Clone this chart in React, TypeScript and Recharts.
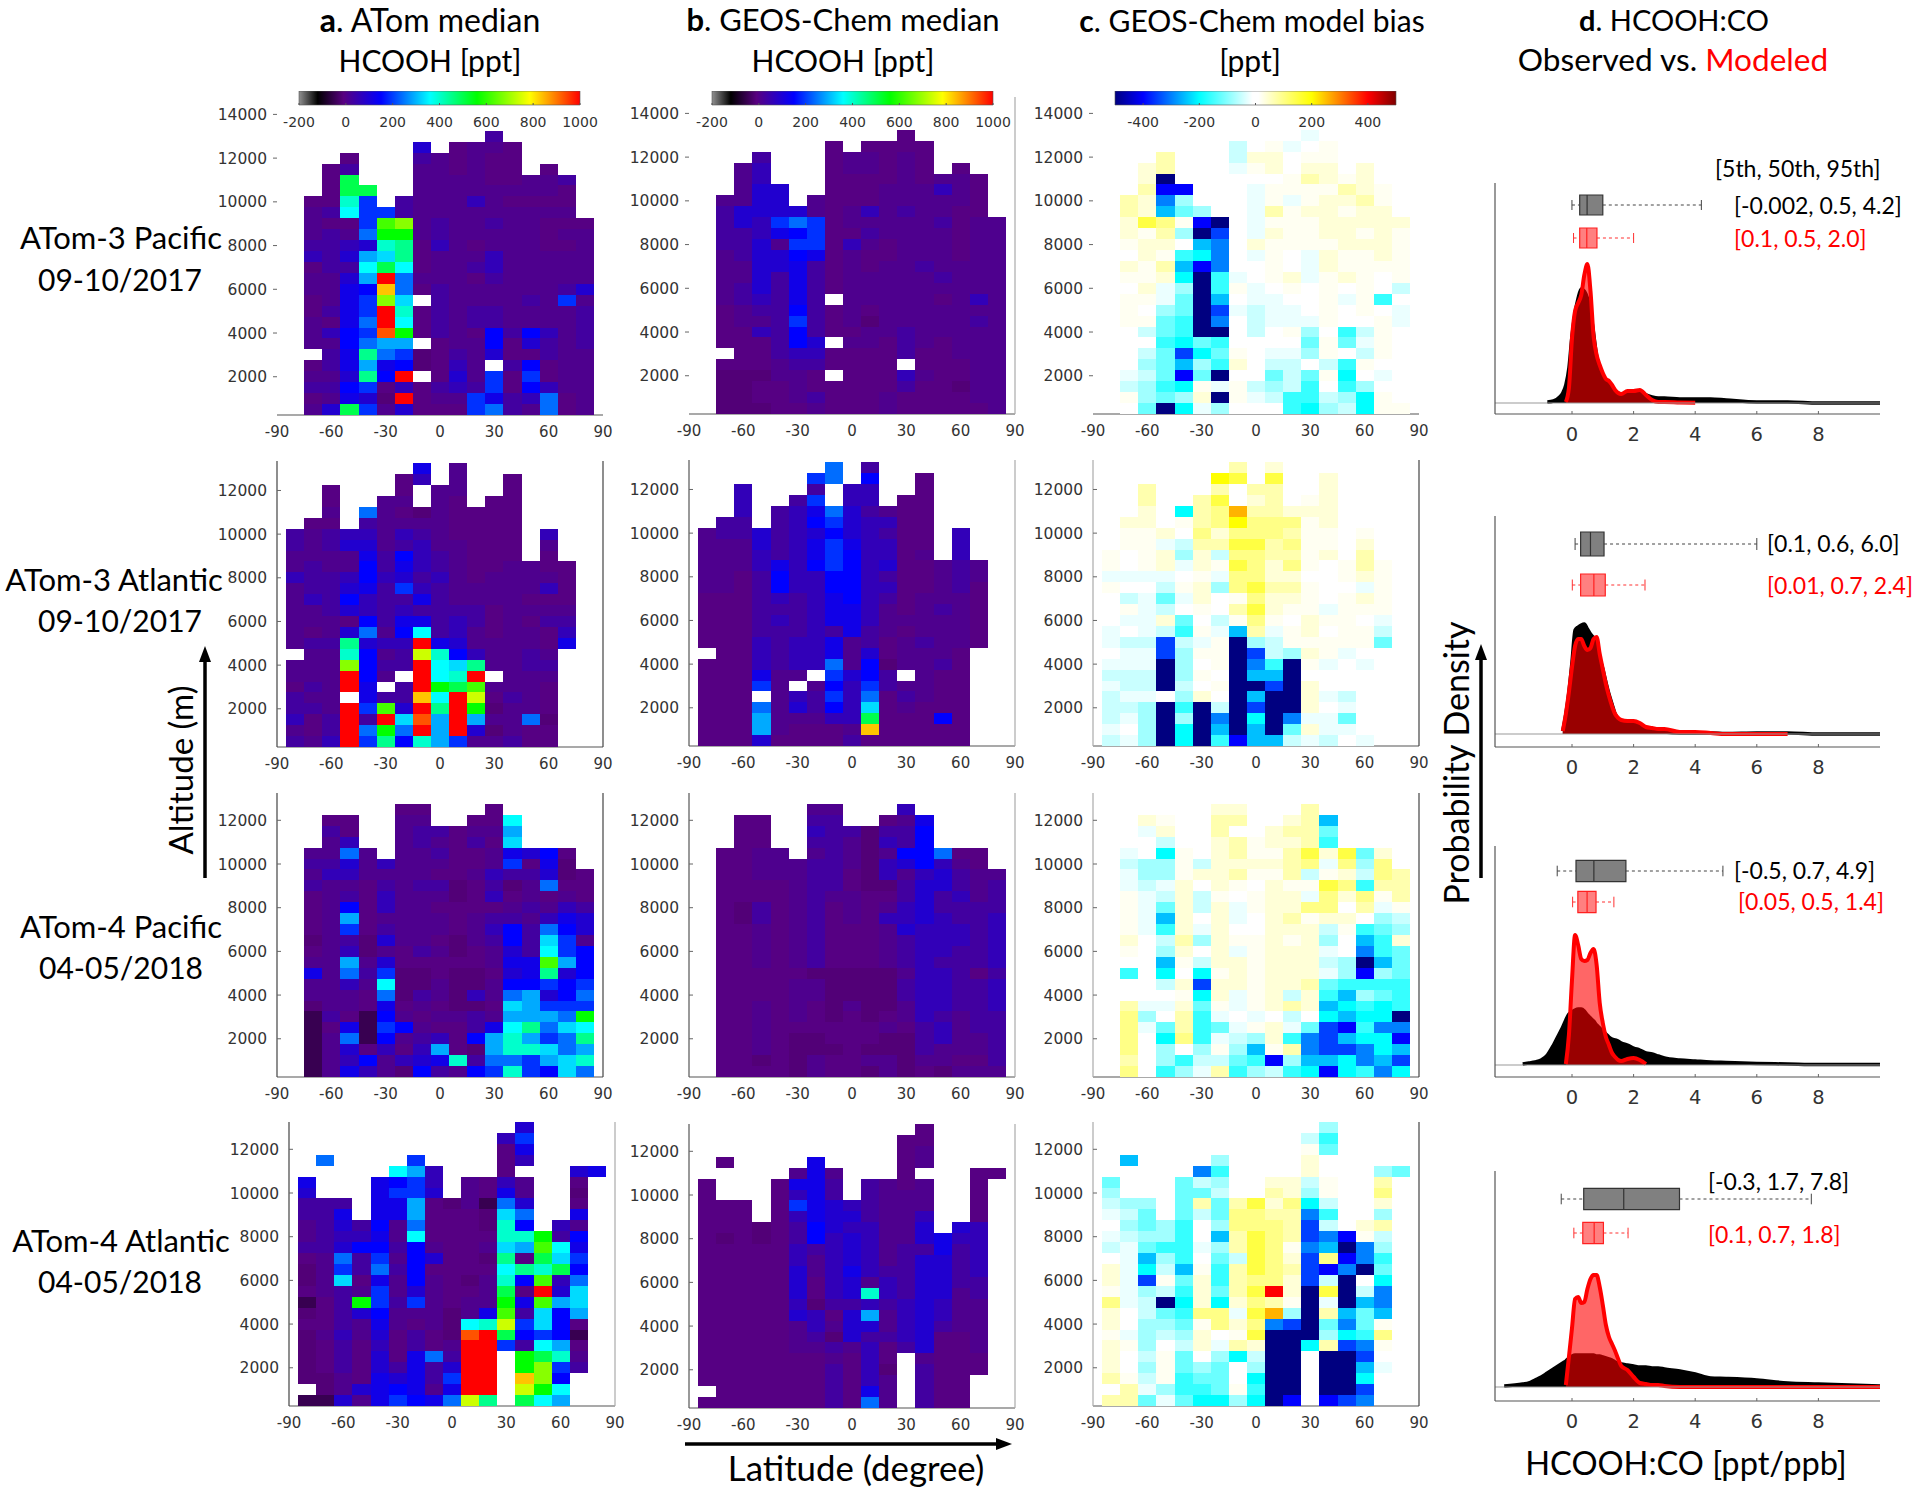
import React from 'react';
import {
  ScatterChart, Scatter, XAxis, YAxis, ComposedChart, Area, ReferenceArea, ReferenceLine,
} from 'recharts';

// one letter per grid cell, 10 deg wide and 500 m tall, top row first, '.' = no data
// a..y = HCOOH in ppt, see hcoohLevels / A..U = model bias in ppt, see biasLevels
const hcoohLevels: Record<string, number> = {
  a: -50, b: -18, c: -6, d: 8, e: 30, f: 60, g: 90, h: 120, i: 150, j: 190, k: 240, l: 290, m: 330,
  n: 360, o: 400, p: 450, q: 500, r: 560, s: 620, t: 680, u: 740, v: 785, w: 835, x: 930, y: 1000,
};
const biasLevels: Record<string, number> = {
  A: -500, B: -400, C: -350, D: -300, E: -250, F: -200, G: -160, H: -120, I: -80, J: -50, K: -25,
  L: 0, M: 20, N: 40, O: 70, P: 100, Q: 150, R: 200, S: 260, T: 330, U: 400,
};

const atom3PacObs = [
  '...........e.....', '.......g.cddc....', '...c...edcdcc....', '..ce...ddcdcc.c..', '..cq...ddddccdde.',
  '..cqq..ddddddddc.', '.ccoj.edddfdcccc.', '.denjjeddddddddd.', '.dccjstdeddeddccc', '.dedkrrdedddddcdd',
  '.eefgopcfdcdddccd', '.feglmpcdddfddddd', '.ceenqncddefddddd', '.ddglykdddceddddd', '.ddhiwkceddddddeg',
  '.cdhjtm.eddddedjd', '.cehjyocedeedddde', '.dchkyncedeedddde', '.dfijxrcedcieifde', '.ddikll.cddicgede',
  '..ehpkjbcedgccedd', '.cehlhibcfd.eicdd', '.ddgpiy.cgdjcjcdd', '.eeijcfcefejcifdd', '.cdhgbycddjhefkcd',
  '.dgqjdgcccjkedkcd',
];
const atom3PacModel = [
  '...........c.....', '.......c.cccc....', '...e...cddcdc....', '..df...cddcdc.c..', '..df...ccccdcddc.',
  '..dgg..cccdddfdc.', '.ddgg.dcccdddddc.', '.eggggdcdfdeddcc.', '.egfjkjcdddddecdd', '.eefhijcceddddcdd',
  '.eegdjjcfdcdddcdd', '.deggihcdccdddcdd', '.ddgghecdcddedddd', '.ddgehecdddddeddd', '.degehecddddddddd',
  '.defehe.dddddcdfd', '.cdeeiecdcddddddd', '.cddejecdbddddded', '.ccfeieccddeddddd', '.ccceig.ddcedcddd',
  '..cceffcccceccddd', '.cccdeecccc.cccdd', '.bbbddc.cccfdccdd', '.bbccdccccceccbdd', '.bbccdecccdccccdd',
  '.bbbccdcccdcccccd',
];
const atom3PacBias = [
  '...........K.....', '.......J.MKLM....', '...O...JNNLMM....', '..NO...KMNLNN.N..', '..NA...LLLMONMN..',
  '..OBB..LKMMMMONM.', '.ONDI..LKMKMNNOM.', '.ONEHI.LKOMNNMNN.', '.NQPMBALKMMMNNNNN', '.NMOIACLKNMMNNMNM',
  '.MNNLEDLNMMMMNNNM', '.LNMGFDLKMLKNMMNM', '.NMOEBDLLMLKNMMMM', '.MMNFAGKLMNKMNMLM', '.LNKIAGMKLMLMLMLJ',
  '.MMKHAELKKLLMKMGL', '.MLIHACKJKKLMLMLK', '.MMHGADLJKKKMLLMK', '.LJHGAALJLMILGJML', '.LLGFHGLLLLHMHKML',
  '.LJHCFHMLKKIMLJML', '.LIHEIGNLJJLJGMLL', '.KJHBHALLHJHMFLKL', '.JIGFMKMJIJGLGILL', '.MIHINAMKJGGJIFML',
  '.LHAFKILLLGFIJFMM',
];
const atom3AtlObs = [
  '.......h.d.......', '......cf.d..c....', '..c...c.dd..c....', '..c..dd.dc.cc....', '..d.kdcbdcccc....',
  '.cc.eddddcccc....', 'edeffdfedcccc.f..', 'edeggdefddccc.d..', 'ddddheifedccc.c..', 'deddiehfedccddcc.',
  'feefifgefdcddddc.', 'deeghejfedddddfc.', 'dfeifeeheddddccc.', 'ddegfefeeeecdddd.', 'dddciehhefecdcee.',
  'dcdgkdinefdcddcf.', 'deepgffyhgddddch.', '.ddoideuoifdded..', 'dddtieeynmpddee..', 'dddyid.ynoy.ddd..',
  'cedyh.eyrqsdddc..', 'edd.heewnyucedc..', 'eedyjsgypyrbddc..', 'fceyeymxlylddkb..', 'dceykrkylygbdcc..',
  'edfyjpioljddecc..',
];
const atom3AtlModel = [
  '.......k.e.......', '......jk.i..c....', '..f...e.ff..c....', '..f..ej.ff.cc....', '..f.efhkgedcc....',
  '.ee.efijgffcc....', 'deegefgigfecc.f..', 'dddgefhjhffcc.f..', 'dddfefhjiffcd.f..', 'dddfhfijifgccded.',
  'ddceiffiifeccded.', 'ddceiffiiffccdec.', 'cccefefhifecdddc.', 'ccceeefhhfdcdedc.', 'cccefefhhfdddddc.',
  'ccceeefehedcdddc.', 'cccfeffhdecdeddc.', '.ccfeffhdgcdddc..', 'cccfeffkdibddec..', 'ccchdd.jgie.dcc..',
  'cccjd.difjeddcc..', 'ccc.dfejfkcedcc..', 'ccckdgeifmcdccc..', 'cccldddffqcccic..', 'cccldcccdwccccc..',
  'cccgccccecccccc..',
];
const atom3AtlBias = [
  '.......O.N.......', '......RQ.Q..N....', '..O...OLOO..N....', '..O..OQLNO.MN....', '..N.FOPSOONNN....',
  '.NN.MOPRPPPMN....', '.MMNLPNPPPOMM.M..', '.MMKJOOQQOPMM.N..', 'MLMNINJPPOOMNLO..', 'MLMNKNMQPNPMLMOM.',
  'KKKKLMKPPNNLLMNM.', 'MLLJMNIPQOOMLLKM.', 'LJKHKNLMPNNMLMNM.', 'LMKJLMLOQNMMKMMM.', 'LKKNHLJMPMLNMMLK.',
  'KLKJGMKEOKMNLMMJ.', 'KJJCJKMAIJMMMMMH.', 'LKKCIMMACJINMKLL.', 'KKKAILMADGAMKLK..', 'JJJAIMLAEEALLLL..',
  'KJJAJLMAACANLLL..', 'JKKLINLAEAANKJL..', 'JJIAGAJACAANLKL..', 'JKIAIADAFADKKHL..', 'KLIAFAEAEAHNKKL..',
  'JKIAFAGBEEJKJLK..',
];
const atom4PacObs = [
  '......cc...c.....', '..cc..dd..ccn....', '..ec..deecddl....', '..df..dedcecm....', '.ddkd.ddeccdhgic.',
  '.eegdfdddccdjchb.', '.dffddddccdfeegbc', '.eddcedeebcebdkcc', '.cdecfdddbcfcdcdc', '.cdicfddccccdedfe',
  '.cdlcddddcdeedfhg', '.cdjcedddcdfiekig', '.bdebgddcbdeiemjd', '.cdfbdcedbcdgenji', '.ddldgcccccdhhsli',
  '.hdkejbbcbbcghpgi', '.ddfdnbbdbbdiijij', '.dddckbedbfdklgik', '.bddchcdcbbcmljjj', '.aecaidcddedlllkr',
  '.achajidccehnpkmn', '.adkaidefciloljkp', '.adgcfcflcbloomkl', '.adfidfghoekkjlmo', '.adhfdbiedijojimk',
];
const atom4PacModel = [
  '......dd...f.....', '..cc..ee..cdh....', '..cc..feebeei....', '..cc..eedbfei....', '.ccdd.dedbdiikcc.',
  '.ccdddeedbfgifdc.', '.ccdddeecbfdfgedd', '.ccccdeecbbeggede', '.ccccdeddccegefde', '.cbecdecdcdfgeeee',
  '.cbecdecdcffgfeef', '.ccdcdecccdgfffef', '.ccdcdecccdefffef', '.ccdcdecccdeffeef', '.ccdcdecccdefeeef',
  '.cccccbbbbbdffece', '.ccccddbbbbeffeef', '.ccccddbbbbeffeef', '.ccdcdcbdbbdffeef', '.ccdcdcbcbcdfedee',
  '.ccdccccccdcefdee', '.ccdcbbcccbbefdde', '.ccdcbbbcbbbeddde', '.ccbcbdccddbddcce', '.ccccbdccbdbcbddd',
];
const atom4PacBias = [
  '......NN...O.....', '..NM..OO..NOE....', '..KN..OLLNOOH....', '..LJ..NOMNNOG....', '.KLFMLNOMMOQNQHN.',
  '.JIIMJNNNNOPKPIP.', '.KIIMNNOMMOJMNJPO', '.KJKNLNMLNMMQPGOO', '.MKJNJMLMNNKPNPMO', '.MKHNJNKMNNPPLOKM',
  '.MKENLNKLNOMNNLIJ', '.MKGNKNLLNNNJMGHI', '.NLJOINMMNMNILEGN', '.MLINLNKMNNNKLDGH', '.LLEMJNNMNNNJIAEH',
  '.GLFLFMNMNNNKIBIH', '.LLJNCNNMNNOHGGGG', '.LLLMFNKMNJNGEIHG', '.OKKNHMKMNONEFGFG', '.PILOGKLKLJLFEFFA',
  '.PKHOGHKMNKHCBGDD', '.PLFPGKJINGDCEFFB', '.PLILIMIEMODCCDFE', '.OLIGJJHGBIEEFDEC', '.PLGIKOGIJGFBFGDF',
];
const atom4AtlObs = [
  '............g....', '...........fj....', '...........ch....', '.k....j....cf....', '.....nlf...c...gh',
  'h...hijf.dcfd..c.', 'g...hjjg.dchd..b.', 'eee.hhlcbdakg..c.', 'eeh.hhlcccbmk..h.', 'degeidkcccboi.fd.',
  'deffhdnccccoorei.', 'eegiieidccdmlsnh.', 'cdkejdigccbpcqmj.', 'bdjekeiccccnpoqi.', 'bdmchdidcbdoisfk.',
  'cdedjdgdccdqcygm.', 'acerjejdcddrhslm.', 'bcegidddbdhsemil.', 'ccedhdcdbnoujmic.', 'bdfdgcecbxyqijia.',
  'bcecfcecdyyjenlc.', 'bcecgchkeyy.rqod.', 'bcecgehegyy.rtje.', 'bbdchghejyy.wti..', '.bdghihdhyy.urn..',
  'aagdhjihkup.qnl..',
];
const atom4AtlModel = [
  '............c....', '...........cc....', '...........cd....', '.c....h....cd....', '.....dhd...c...cc',
  'c...chhe.edcd..c.', 'c...cfhe.eddd..c.', 'ccc.cjhgfeddd..c.', 'ccc.cfhggeddf..c.', 'cccbceigffddg.gf.',
  'cbcbceifgfddghff.', 'cccccfefgfdeehef.', 'cccccfdfgfdeggef.', 'cccccgdfhfeeggef.', 'cccccgcfgdfeggee.',
  'cccccgcfgofeggde.', 'cccccfbeefefgfdd.', 'cccccgfcgldfgfdd.', 'cccccdfdggdfgedd.', 'cccccdebgeefgccd.',
  'cccccddedfcegccd.', 'cccccccdcfc.dccc.', 'cccccccecfb.eccc.', 'cccccccecfd.ecc..', '.ccccccechd.ecc..',
  'ccccccceckd.ecc..',
];
const atom4AtlBias = [
  '............I....', '...........JG....', '...........MH....', '.E....I....N.....', '.....DG....N...IH',
  'H...HJI..NNJM..O.', 'I...HHJ..ONIM..P.', 'JII.HOHOQNPFJ..N.', 'KJH.HJHPPOODG..I.', 'LIHIGLIPPPOCJ.NO.',
  'KJIIGLEOQPOCDBMJ.', 'JKHGGKIOQPMDEADI.', 'LKEIGLHJQPNCPBDG.', 'NKFJEMGOQPOCBDAH.', 'NKCMHNGOPPNCJALF.',
  'MKIJGNHOQUNAQAJD.', 'PKJAFNFNPOMAKAED.', 'NLJHGPPKQSIAOEHE.', 'NLIIHMPNPDCAHDHM.', 'MKIJINLMQAAAIFGP.',
  'NMILJNKONAAFOCDM.', 'NLJMHLIFJAA.AACL.', 'NLIMHIHLIAA.AAEK.', 'OMJMGHHLFAA.AAF..', 'LOKIGGHMGAA.AAC..',
  'OOHKHFFIFAB.BCD..',
];

// density curves, HCOOH:CO on the x axis
const densityX = [
  -2.2, -1.6, -1.4, -1.2, -1, -0.8, -0.6, -0.4, -0.3, -0.2, -0.1,
  0, 0.1, 0.2, 0.3, 0.4, 0.5, 0.6, 0.7, 0.8, 0.9,
  1, 1.1, 1.2, 1.3, 1.4, 1.5, 1.6, 1.8,
  2, 2.2, 2.4, 2.6, 2.8, 3, 3.5,
  4, 4.5, 5, 6, 7, 8, 9, 10,
];
const n = null;
const obs3Pac = [
  n, n, n, n, n, 0.01, 0.02, 0.06, 0.1, 0.18, 0.35,
  0.67, 0.9, 1.05, 1.14, 1.12, 1.05, 0.92, 0.7, 0.47, 0.35,
  0.27, 0.22, 0.18, 0.14, 0.12, 0.1, 0.09, 0.1,
  0.1, 0.1, 0.08, 0.06, 0.05, 0.05, 0.04,
  0.04, 0.04, 0.03, 0.01, 0.01, 0, 0, 0,
];
const mod3Pac = [
  n, n, n, n, n, n, n, n, n, 0.01, 0.15,
  0.65, 0.92, 1, 1.08, 1.28, 1.39, 1.12, 0.67, 0.48, 0.38,
  0.3, 0.24, 0.22, 0.18, 0.13, 0.1, 0.09, 0.12,
  0.12, 0.13, 0.08, 0.03, 0.01, 0.01, 0.005,
  0.002, n, n, n, n, n, n, n,
];
const obs3Atl = [
  n, n, n, n, n, n, n, n, 0.03, 0.2, 0.42,
  0.72, 1.04, 1.07, 1.09, 1.1, 1.05, 1, 0.96, 0.87, 0.76,
  0.65, 0.52, 0.4, 0.3, 0.2, 0.15, 0.13, 0.12,
  0.1, 0.08, 0.05, 0.04, 0.03, 0.02, 0.01,
  0.01, 0.01, 0.005, 0.01, 0.01, 0, 0, 0,
];
const mod3Atl = [
  n, n, n, n, n, n, n, n, 0.03, 0.2, 0.42,
  0.67, 0.88, 0.95, 0.95, 0.88, 0.84, 0.86, 0.95, 0.97, 0.8,
  0.65, 0.5, 0.38, 0.28, 0.2, 0.16, 0.14, 0.13,
  0.13, 0.11, 0.07, 0.06, 0.05, 0.05, 0.02,
  0.02, 0.01, 0, 0, 0, n, n, n,
];
const obs4Pac = [
  n, 0.01, 0.02, 0.03, 0.05, 0.1, 0.2, 0.32, 0.38, 0.45, 0.51,
  0.53, 0.55, 0.56, 0.56, 0.54, 0.5, 0.47, 0.44, 0.4, 0.37,
  0.34, 0.31, 0.28, 0.26, 0.25, 0.24, 0.22, 0.2,
  0.17, 0.15, 0.12, 0.11, 0.09, 0.07, 0.05,
  0.04, 0.03, 0.025, 0.015, 0.01, 0.005, 0.005, 0.005,
];
const mod4Pac = [
  n, n, n, n, n, n, n, n, n, 0.01, 0.3,
  0.85, 1.3, 1.2, 1.06, 1.04, 1.05, 1.12, 1.16, 1, 0.62,
  0.42, 0.28, 0.2, 0.12, 0.08, 0.05, 0.04, 0.06,
  0.07, 0.05, 0.01, n, n, n, n,
  n, n, n, n, n, n, n, n,
];
const obs4Atl = [
  0.01, 0.03, 0.04, 0.07, 0.1, 0.14, 0.18, 0.22, 0.24, 0.26, 0.29,
  0.31, 0.32, 0.32, 0.32, 0.32, 0.32, 0.32, 0.32, 0.31, 0.31,
  0.3, 0.29, 0.28, 0.27, 0.25, 0.24, 0.23, 0.22,
  0.21, 0.2, 0.2, 0.19, 0.19, 0.18, 0.16,
  0.13, 0.09, 0.085, 0.07, 0.04, 0.03, 0.02, 0.01,
];
const mod4Atl = [
  n, n, n, n, n, n, n, n, n, 0.02, 0.3,
  0.59, 0.88, 0.9, 0.84, 0.85, 0.98, 1.08, 1.12, 1.12, 1,
  0.82, 0.62, 0.5, 0.43, 0.36, 0.28, 0.21, 0.17,
  0.1, 0.04, 0.03, 0.02, 0.02, 0.01, 0,
  0, 0, 0, 0, 0, 0, 0, 0,
];

// box stats: p5, q1, median, q3, p95
const box3PacObs = [-0.002, 0.25, 0.49, 1.0, 4.2];
const box3PacMod = [0.05, 0.25, 0.48, 0.81, 2.0];
const box3AtlObs = [0.1, 0.28, 0.6, 1.04, 6.0];
const box3AtlMod = [0.01, 0.28, 0.71, 1.08, 2.37];
const box4PacObs = [-0.48, 0.13, 0.71, 1.75, 4.9];
const box4PacMod = [0.02, 0.19, 0.49, 0.78, 1.36];
const box4AtlObs = [-0.35, 0.38, 1.68, 3.49, 7.77];
const box4AtlMod = [0.06, 0.35, 0.72, 1.02, 1.82];

const latTicks = [-90, -60, -30, 0, 30, 60, 90];
const altTicksTall = [2000, 4000, 6000, 8000, 10000, 12000, 14000];
const altTicks = [2000, 4000, 6000, 8000, 10000, 12000];
const hcoohBarTicks = [-200, 0, 200, 400, 600, 800, 1000];
const biasBarTicks = [-400, -200, 0, 200, 400];
const densityTicks = [0, 2, 4, 6, 8];

type Stop = [number, string];
const hcoohStops: Stop[] = [
  [-200, '#909090'], [-120, '#000000'], [-10, '#580080'], [150, '#0000ff'], [360, '#00ffff'],
  [560, '#00ff00'], [785, '#ffff00'], [1000, '#ff0000'],
];
const biasStops: Stop[] = [
  [-500, '#000080'], [-400, '#0000ff'], [-200, '#00ffff'], [-10, '#ffffff'], [10, '#ffffff'],
  [200, '#ffff00'], [400, '#ff0000'], [500, '#800000'],
];

const hexPart = (h: string, i: number) => parseInt(h.slice(1 + i * 2, 3 + i * 2), 16);

function colorAt(stops: Stop[], v: number) {
  let k = 0;
  while (k < stops.length - 2 && v > stops[k + 1][0]) k++;
  const [v0, c0] = stops[k];
  const [v1, c1] = stops[k + 1];
  const t = Math.max(0, Math.min(1, (v - v0) / (v1 - v0)));
  const rgb = [0, 1, 2].map((i) => Math.round(hexPart(c0, i) + (hexPart(c1, i) - hexPart(c0, i)) * t));
  return `rgb(${rgb.join(',')})`;
}

function toCells(rows: string[], levels: Record<string, number>) {
  const cells: { lat: number; alt: number; v: number }[] = [];
  rows.forEach((row, i) => {
    row.split('').forEach((ch, j) => {
      if (ch in levels) cells.push({ lat: -80 + j * 10, alt: (rows.length - i) * 500, v: levels[ch] });
    });
  });
  return cells;
}

const tickFont = { fontFamily: 'DejaVu Sans', fontSize: 14, fill: '#333' };
const latFont = { fontFamily: 'DejaVu Sans', fontSize: 15, fill: '#333' };
const altFont = { fontFamily: 'DejaVu Sans', fontSize: 15.5, fill: '#333' };
const gutter = 60;
const rightGutter = 16;
const plotW = 326;
const cellH = 10.93;

type HeatProps = {
  rows: string[];
  left: number;
  bottom: number;
  yMax: number;
  bias?: boolean;
  ticks?: number[];
  leftLine?: string;
  rightLine?: string;
  outward?: boolean;
};

function HeatPanel({ rows, left, bottom, yMax, bias, ticks = altTicks, leftLine, rightLine, outward }: HeatProps) {
  const plotH = Math.round(((yMax - 250) / 500) * cellH);
  const w = plotW / 18;
  const h = (plotH * 500) / (yMax - 250);
  const data = toCells(rows, bias ? biasLevels : hcoohLevels);
  const stops = bias ? biasStops : hcoohStops;
  const tickSize = outward ? 4 : -4;
  const tickMargin = outward ? 6 : 14;
  return (
    <div style={{ position: 'absolute', left: left - gutter, top: bottom - plotH - 4 }}>
      <ScatterChart
        width={gutter + plotW + rightGutter}
        height={plotH + 4 + 34}
        margin={{ top: 4, right: 0, bottom: 0, left: 0 }}
      >
        <XAxis
          type="number"
          dataKey="lat"
          domain={[-90, 90]}
          ticks={latTicks}
          interval={0}
          height={34}
          tickSize={0}
          tickMargin={11}
          tick={latFont}
          axisLine={{ stroke: '#555', strokeWidth: 1.2 }}
          allowDataOverflow
        />
        <YAxis
          type="number"
          dataKey="alt"
          domain={[250, yMax]}
          ticks={ticks}
          interval={0}
          width={gutter}
          tickSize={tickSize}
          tickMargin={tickMargin}
          tick={altFont}
          tickLine={{ stroke: '#666' }}
          axisLine={leftLine ? { stroke: leftLine, strokeWidth: 1.2 } : false}
          allowDataOverflow
        />
        <YAxis
          yAxisId="right"
          orientation="right"
          type="number"
          domain={[250, yMax]}
          ticks={ticks}
          interval={0}
          width={rightGutter}
          tickSize={tickSize}
          tick={false}
          tickLine={{ stroke: '#666' }}
          axisLine={rightLine ? { stroke: rightLine, strokeWidth: 1.2 } : false}
          allowDataOverflow
        />
        <Scatter
          data={data}
          isAnimationActive={false}
          shape={(p: any) => (
            <rect
              x={p.cx - w / 2}
              y={p.cy - h / 2}
              width={w}
              height={h}
              fill={colorAt(stops, p.payload.v)}
              shapeRendering="crispEdges"
            />
          )}
        />
      </ScatterChart>
    </div>
  );
}

function ColorBar({ left, width, bias }: { left: number; width: number; bias?: boolean }) {
  const stops = bias ? biasStops : hcoohStops;
  const lo = stops[0][0];
  const hi = stops[stops.length - 1][0];
  const id = bias ? 'barBias' : `barHcooh${left}`;
  return (
    <div style={{ position: 'absolute', left: left - 30, top: 91 }}>
      <ScatterChart width={width + 60} height={44} margin={{ top: 0, right: 30, bottom: 0, left: 30 }}>
        <defs>
          <linearGradient id={id} x1="0" y1="0" x2="1" y2="0">
            {stops.map(([v, c]) => (
              <stop key={v} offset={(v - lo) / (hi - lo)} stopColor={c} />
            ))}
          </linearGradient>
        </defs>
        <XAxis
          type="number"
          dataKey="v"
          domain={[lo, hi]}
          ticks={bias ? biasBarTicks : hcoohBarTicks}
          interval={0}
          height={30}
          tickSize={-2}
          tickMargin={14}
          tick={tickFont}
          tickLine={{ stroke: '#555' }}
          axisLine={false}
        />
        <YAxis type="number" dataKey="y" domain={[0, 1]} hide />
        <Scatter data={[{ v: lo, y: 0 }, { v: hi, y: 1 }]} isAnimationActive={false} shape={() => <g />} />
        <ReferenceArea x1={lo} x2={hi} y1={0} y2={1} fill={`url(#${id})`} fillOpacity={1} stroke="#555" strokeWidth={0.6} />
      </ScatterChart>
    </div>
  );
}

function Box({ stats, y, half, color, fill, edge }: { stats: number[]; y: number; half: number; color: string; fill: string; edge: string }) {
  const [p5, q1, med, q3, p95] = stats;
  const cap = half * 0.5;
  return (
    <>
      <ReferenceLine segment={[{ x: p5, y }, { x: q1, y }]} stroke={color} strokeDasharray="3 3" />
      <ReferenceLine segment={[{ x: q3, y }, { x: p95, y }]} stroke={color} strokeDasharray="3 3" />
      <ReferenceLine segment={[{ x: p5, y: y - cap }, { x: p5, y: y + cap }]} stroke={color} />
      <ReferenceLine segment={[{ x: p95, y: y - cap }, { x: p95, y: y + cap }]} stroke={color} />
      <ReferenceArea x1={q1} x2={q3} y1={y - half} y2={y + half} fill={fill} fillOpacity={1} stroke={edge} strokeWidth={1.2} />
      <ReferenceLine segment={[{ x: med, y: y - half }, { x: med, y: y + half }]} stroke={edge} strokeWidth={1.2} />
    </>
  );
}

type DensityProps = {
  obs: (number | null)[];
  mod: (number | null)[];
  boxObs: number[];
  boxMod: number[];
  top: number;
  bottom: number;
  baseline: number;
  boxObsY: number;
  boxModY: number;
  halfObs: number;
  halfMod: number;
};

function DensityPanel({ obs, mod, boxObs, boxMod, top, bottom, baseline, boxObsY, boxModY, halfObs, halfMod }: DensityProps) {
  const data = densityX.map((x, i) => ({ x, obs: obs[i], mod: mod[i] }));
  const height = bottom - top;
  return (
    <div style={{ position: 'absolute', left: 1494, top }}>
      <ComposedChart width={386 + 2} height={height + 40} data={data} margin={{ top: 0, right: 2, bottom: 0, left: 0 }}>
        <XAxis
          type="number"
          dataKey="x"
          domain={[-2.5, 10]}
          ticks={densityTicks}
          interval={0}
          height={40}
          tickSize={-3}
          tickMargin={16}
          tick={{ fontFamily: 'DejaVu Sans', fontSize: 19.5, fill: '#333' }}
          tickLine={{ stroke: '#666' }}
          axisLine={{ stroke: '#555', strokeWidth: 1.2 }}
          allowDataOverflow
        />
        <YAxis
          type="number"
          width={1}
          domain={[(baseline - bottom) / 100, (baseline - top) / 100]}
          tick={false}
          tickLine={false}
          axisLine={{ stroke: '#555', strokeWidth: 1.2 }}
          allowDataOverflow
        />
        <ReferenceLine y={0} stroke="#999" strokeWidth={1.2} />
        <Area
          type="monotone"
          dataKey="obs"
          baseValue={0}
          stroke="#000"
          strokeWidth={3.5}
          fill="#000"
          fillOpacity={1}
          dot={false}
          activeDot={false}
          isAnimationActive={false}
        />
        <Area
          type="monotone"
          dataKey="mod"
          baseValue={0}
          stroke="#ff0000"
          strokeWidth={4}
          fill="#ff0000"
          fillOpacity={0.6}
          dot={false}
          activeDot={false}
          isAnimationActive={false}
        />
        <Box stats={boxObs} y={boxObsY} half={halfObs} color="#444" fill="#808080" edge="#333" />
        <Box stats={boxMod} y={boxModY} half={halfMod} color="#ff3030" fill="#ff8080" edge="#ff2020" />
      </ComposedChart>
    </div>
  );
}

const labelFont = 'Lato, "Open Sans", sans-serif';

function Label({ x, y, size = 30, color = '#000', rotate, children }: { x: number; y: number; size?: number; color?: string; rotate?: boolean; children: React.ReactNode }) {
  return (
    <div
      style={{
        position: 'absolute',
        left: x,
        top: y,
        transform: `translate(-50%, -50%)${rotate ? ' rotate(-90deg)' : ''}`,
        whiteSpace: 'nowrap',
        fontFamily: labelFont,
        fontSize: size,
        lineHeight: 1.2,
        color,
      }}
    >
      {children}
    </div>
  );
}

function StatLabel({ x, y, color = '#000', children }: { x: number; y: number; color?: string; children: React.ReactNode }) {
  return (
    <div
      style={{
        position: 'absolute',
        left: x,
        top: y,
        transform: 'translateY(-50%)',
        whiteSpace: 'nowrap',
        fontFamily: labelFont,
        fontSize: 23,
        lineHeight: 1,
        color,
      }}
    >
      {children}
    </div>
  );
}

function Arrows() {
  return (
    <svg width={1917} height={1492} style={{ position: 'absolute', left: 0, top: 0, pointerEvents: 'none' }}>
      <line x1={205} y1={878} x2={205} y2={660} stroke="#000" strokeWidth={3.5} />
      <polygon points="205,646 199,662 211,662" fill="#000" />
      <line x1={1481} y1={878} x2={1481} y2={658} stroke="#000" strokeWidth={3.5} />
      <polygon points="1481,644 1475,660 1487,660" fill="#000" />
      <line x1={685} y1={1444} x2={998} y2={1444} stroke="#000" strokeWidth={3.5} />
      <polygon points="1012,1444 996,1438 996,1450" fill="#000" />
    </svg>
  );
}

export default function App() {
  return (
    <div style={{ position: 'absolute', left: 0, top: 0, width: 1917, height: 1492, background: '#fff', overflow: 'hidden' }}>
      <HeatPanel rows={atom3PacObs} left={277} bottom={415} yMax={14750} ticks={altTicksTall} outward />
      <HeatPanel rows={atom3PacModel} left={689} bottom={414} yMax={14750} ticks={altTicksTall} outward rightLine="#aaa" />
      <HeatPanel rows={atom3PacBias} left={1093} bottom={414} yMax={14750} ticks={altTicksTall} outward bias />

      <HeatPanel rows={atom3AtlObs} left={277} bottom={747} yMax={13350} leftLine="#444" rightLine="#444" />
      <HeatPanel rows={atom3AtlModel} left={689} bottom={746} yMax={13350} leftLine="#555" rightLine="#aaa" />
      <HeatPanel rows={atom3AtlBias} left={1093} bottom={746} yMax={13350} bias leftLine="#aaa" rightLine="#444" />

      <HeatPanel rows={atom4PacObs} left={277} bottom={1077} yMax={13250} leftLine="#444" rightLine="#444" />
      <HeatPanel rows={atom4PacModel} left={689} bottom={1077} yMax={13250} leftLine="#555" rightLine="#aaa" />
      <HeatPanel rows={atom4PacBias} left={1093} bottom={1077} yMax={13250} bias leftLine="#aaa" rightLine="#444" />

      <HeatPanel rows={atom4AtlObs} left={289} bottom={1406} yMax={13250} leftLine="#444" rightLine="#aaa" />
      <HeatPanel rows={atom4AtlModel} left={689} bottom={1408} yMax={13250} leftLine="#555" rightLine="#aaa" />
      <HeatPanel rows={atom4AtlBias} left={1093} bottom={1406} yMax={13250} bias leftLine="#aaa" rightLine="#444" />

      <ColorBar left={299} width={281} />
      <ColorBar left={712} width={281} />
      <ColorBar left={1115} width={281} bias />

      <DensityPanel obs={obs3Pac} mod={mod3Pac} boxObs={box3PacObs} boxMod={box3PacMod} top={183} bottom={414} baseline={403} boxObsY={1.98} boxModY={1.65} halfObs={0.1} halfMod={0.1} />
      <DensityPanel obs={obs3Atl} mod={mod3Atl} boxObs={box3AtlObs} boxMod={box3AtlMod} top={516} bottom={747} baseline={734} boxObsY={1.9} boxModY={1.49} halfObs={0.12} halfMod={0.11} />
      <DensityPanel obs={obs4Pac} mod={mod4Pac} boxObs={box4PacObs} boxMod={box4PacMod} top={846} bottom={1077} baseline={1065} boxObsY={1.94} boxModY={1.63} halfObs={0.106} halfMod={0.106} />
      <DensityPanel obs={obs4Atl} mod={mod4Atl} boxObs={box4AtlObs} boxMod={box4AtlMod} top={1171} bottom={1401} baseline={1387} boxObsY={1.88} boxModY={1.54} halfObs={0.106} halfMod={0.106} />

      <Arrows />

      <Label x={430} y={20} size={32}><b>a</b>. ATom median</Label>
      <Label x={430} y={60}>HCOOH [ppt]</Label>
      <Label x={843} y={20} size={31}><b>b</b>. GEOS-Chem median</Label>
      <Label x={843} y={60}>HCOOH [ppt]</Label>
      <Label x={1252} y={20}><b>c</b>. GEOS-Chem model bias</Label>
      <Label x={1250} y={60}>[ppt]</Label>
      <Label x={1674} y={20} size={29}><b>d</b>. HCOOH:CO</Label>
      <Label x={1673} y={60} size={31.6}>Observed vs. <span style={{ color: '#ff0000' }}>Modeled</span></Label>

      <Label x={121} y={238} size={31}>ATom-3 Pacific</Label>
      <Label x={120} y={279}>09-10/2017</Label>
      <Label x={114} y={580} size={31}>ATom-3 Atlantic</Label>
      <Label x={120} y={620}>09-10/2017</Label>
      <Label x={121} y={927} size={31}>ATom-4 Pacific</Label>
      <Label x={121} y={967}>04-05/2018</Label>
      <Label x={121} y={1241} size={31}>ATom-4 Atlantic</Label>
      <Label x={120} y={1281}>04-05/2018</Label>

      <Label x={181} y={770} size={33} rotate>Altitude (m)</Label>
      <Label x={1456} y={763} size={34} rotate>Probability Density</Label>
      <Label x={856} y={1468} size={34.8}>Latitude (degree)</Label>
      <Label x={1686} y={1463} size={32.6}>HCOOH:CO [ppt/ppb]</Label>

      <StatLabel x={1715} y={168}>[5th, 50th, 95th]</StatLabel>
      <StatLabel x={1734} y={205}>[-0.002, 0.5, 4.2]</StatLabel>
      <StatLabel x={1734} y={238} color="#ff0000">[0.1, 0.5, 2.0]</StatLabel>
      <StatLabel x={1767} y={543}>[0.1, 0.6, 6.0]</StatLabel>
      <StatLabel x={1767} y={585} color="#ff0000">[0.01, 0.7, 2.4]</StatLabel>
      <StatLabel x={1734} y={870}>[-0.5, 0.7, 4.9]</StatLabel>
      <StatLabel x={1738} y={901} color="#ff0000">[0.05, 0.5, 1.4]</StatLabel>
      <StatLabel x={1708} y={1181}>[-0.3, 1.7, 7.8]</StatLabel>
      <StatLabel x={1708} y={1234} color="#ff0000">[0.1, 0.7, 1.8]</StatLabel>
    </div>
  );
}
